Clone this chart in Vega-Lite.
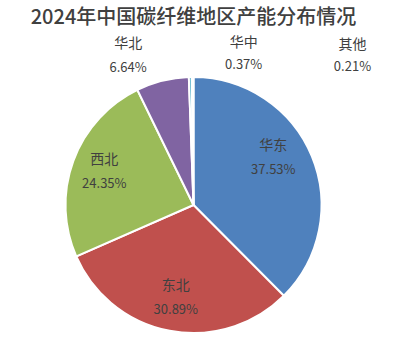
{
  "$schema": "https://vega.github.io/schema/vega-lite/v6.json",
  "width": 387,
  "height": 282,
  "autosize": {"type": "none"},
  "padding": {"left": 0, "top": 64, "right": 7, "bottom": 1},
  "background": "white",
  "title": {
    "text": "2024年中国碳纤维地区产能分布情况",
    "font": "Noto Sans CJK SC",
    "fontSize": 20,
    "fontWeight": 500,
    "color": "#404040",
    "anchor": "middle",
    "frame": "group",
    "offset": 4
  },
  "data": {
    "values": [
      {"region": "华东", "share": 0.3753, "rank": 1},
      {"region": "东北", "share": 0.3089, "rank": 2},
      {"region": "西北", "share": 0.2435, "rank": 3},
      {"region": "华北", "share": 0.0664, "rank": 4},
      {"region": "华中", "share": 0.0037, "rank": 5},
      {"region": "其他", "share": 0.0021, "rank": 6}
    ]
  },
  "encoding": {
    "theta": {"field": "share", "type": "quantitative", "stack": true},
    "order": {"field": "rank", "type": "quantitative"}
  },
  "layer": [
    {
      "mark": {"type": "arc", "outerRadius": 128, "stroke": "white", "strokeWidth": 2},
      "encoding": {
        "color": {
          "field": "region",
          "type": "nominal",
          "scale": {
            "domain": ["华东", "东北", "西北", "华北", "华中", "其他"],
            "range": ["#4F81BD", "#C0504D", "#9BBB59", "#8064A2", "#4BACC6", "#F79646"]
          },
          "legend": null
        }
      }
    },
    {
      "mark": {"type": "text", "radius": 95, "dx": -8, "dy": -23, "font": "Noto Sans CJK SC", "fontSize": 14, "color": "#404040", "baseline": "middle"},
      "encoding": {"text": {"condition": {"test": "datum.rank == 1", "field": "region"}, "value": ""}}
    },
    {
      "mark": {"type": "text", "radius": 95, "dx": -8, "dy": 1, "font": "Noto Sans CJK SC", "fontSize": 13, "color": "#404040", "baseline": "middle"},
      "encoding": {"text": {"condition": {"test": "datum.rank == 1", "field": "share", "format": ".2%"}, "value": ""}}
    },
    {
      "mark": {"type": "text", "radius": 95, "dy": -12, "font": "Noto Sans CJK SC", "fontSize": 14, "color": "#404040", "baseline": "middle"},
      "encoding": {"text": {"condition": {"test": "datum.rank == 2 || datum.rank == 3", "field": "region"}, "value": ""}}
    },
    {
      "mark": {"type": "text", "radius": 95, "dy": 12, "font": "Noto Sans CJK SC", "fontSize": 13, "color": "#404040", "baseline": "middle"},
      "encoding": {"text": {"condition": {"test": "datum.rank == 2 || datum.rank == 3", "field": "share", "format": ".2%"}, "value": ""}}
    },
    {
      "mark": {"type": "text", "radius": 154, "dx": -28, "dy": -12, "font": "Noto Sans CJK SC", "fontSize": 14, "color": "#404040", "baseline": "middle"},
      "encoding": {"text": {"condition": {"test": "datum.rank == 4", "field": "region"}, "value": ""}}
    },
    {
      "mark": {"type": "text", "radius": 154, "dx": -28, "dy": 12, "font": "Noto Sans CJK SC", "fontSize": 13, "color": "#404040", "baseline": "middle"},
      "encoding": {"text": {"condition": {"test": "datum.rank == 4", "field": "share", "format": ".2%"}, "value": ""}}
    },
    {
      "mark": {"type": "text", "radius": 154, "dx": 54, "dy": -8, "font": "Noto Sans CJK SC", "fontSize": 14, "color": "#404040", "baseline": "middle"},
      "encoding": {"text": {"condition": {"test": "datum.rank == 5", "field": "region"}, "value": ""}}
    },
    {
      "mark": {"type": "text", "radius": 154, "dx": 54, "dy": 14, "font": "Noto Sans CJK SC", "fontSize": 13, "color": "#404040", "baseline": "middle"},
      "encoding": {"text": {"condition": {"test": "datum.rank == 5", "field": "share", "format": ".2%"}, "value": ""}}
    },
    {
      "mark": {"type": "text", "radius": 154, "dx": 160, "dy": -6, "font": "Noto Sans CJK SC", "fontSize": 14, "color": "#404040", "baseline": "middle"},
      "encoding": {"text": {"condition": {"test": "datum.rank == 6", "field": "region"}, "value": ""}}
    },
    {
      "mark": {"type": "text", "radius": 154, "dx": 160, "dy": 16, "font": "Noto Sans CJK SC", "fontSize": 13, "color": "#404040", "baseline": "middle"},
      "encoding": {"text": {"condition": {"test": "datum.rank == 6", "field": "share", "format": ".2%"}, "value": ""}}
    }
  ]
}
